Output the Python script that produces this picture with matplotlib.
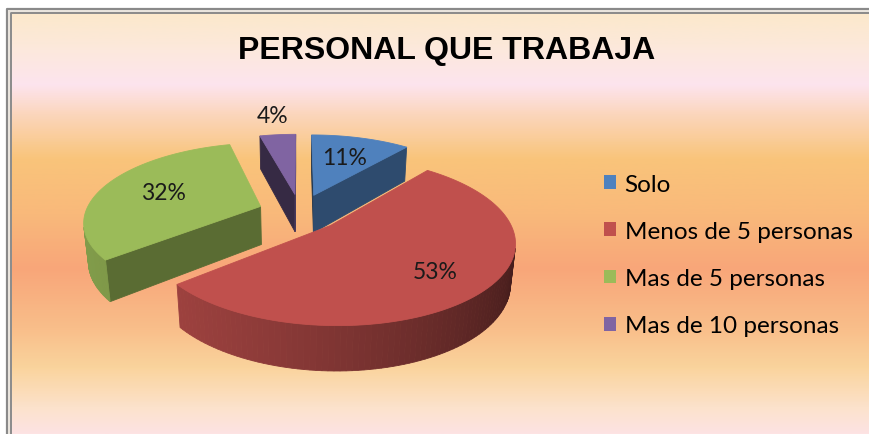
import numpy as np
import matplotlib
matplotlib.use('Agg')
import matplotlib.pyplot as plt
import matplotlib.colors as mcolors
from matplotlib.patches import Polygon, Patch

# datos
categorias = ['Solo', 'Menos de 5 personas', 'Mas de 5 personas', 'Mas de 10 personas']
valores = [11, 53, 32, 4]
colores = ['#4F81BD', '#C0504D', '#9BBB59', '#8064A2']
titulo = 'PERSONAL QUE TRABAJA'

# geometria de la torta 3D (en pixeles)
PHI = np.radians(26)
D = 5.0
S = 175.0
CX, CY = 300, 213
H = 0.25
EXP = 0.24


def proyectar(X, Y, Z):
    prof = D + Y * np.cos(PHI) - Z * np.sin(PHI)
    sx = CX + S * X * D / prof
    sy = CY - S * (Y * np.sin(PHI) + Z * np.cos(PHI)) * D / prof
    return sx, sy


def cara(X, Y, Z, color, z=2):
    xs, ys = proyectar(np.asarray(X, float), np.asarray(Y, float), np.asarray(Z, float))
    ax.add_patch(Polygon(np.column_stack([xs, ys]), closed=True, fc=color, ec=color, lw=0.6, zorder=z))


fig = plt.figure(figsize=(8.7, 4.35), dpi=100)
ax = fig.add_axes([0, 0, 1, 1])
ax.set_xlim(0, 870)
ax.set_ylim(435, 0)
ax.axis('off')

# fondo degradado
pos = np.array([13, 45, 85, 115, 160, 215, 270, 330, 370, 410, 435], float)
cols = ['#FCE8CB', '#FCE9DA', '#FDE4EE', '#FBD6BC', '#F9C47A', '#F9B97B',
        '#F8A679', '#F9BE8A', '#FAD49D', '#FCE2CC', '#FDE3E3']
pos = (pos - pos[0]) / (pos[-1] - pos[0])
cmap = mcolors.LinearSegmentedColormap.from_list('fondo', list(zip(pos, cols)))
grad = np.linspace(0, 1, 500).reshape(-1, 1)
ax.imshow(grad, cmap=cmap, extent=[12, 870, 435, 13], aspect='auto', zorder=0)

# marco
ax.plot([7.5, 7.5, 870], [435, 9.5, 9.5], color='#8A8A8A', lw=1.6, zorder=1)
ax.plot([9.5, 9.5, 870], [435, 11.5, 11.5], color='#E6E0D8', lw=1.2, zorder=1)
ax.plot([11.5, 11.5, 870], [435, 13.5, 13.5], color='#8A8A8A', lw=1.4, zorder=1)

total = float(sum(valores))
ang = np.cumsum([0] + valores) / total * 2 * np.pi
orden = sorted(range(len(valores)), key=lambda i: -np.cos((ang[i] + ang[i + 1]) / 2))

for i in orden:
    t0, t1 = ang[i], ang[i + 1]
    tm = (t0 + t1) / 2
    ox, oy = EXP * np.sin(tm), EXP * np.cos(tm)
    base = np.array(mcolors.to_rgb(colores[i]))

    # paredes radiales
    for t, n in [(t0, (-np.cos(t0), np.sin(t0))), (t1, (np.cos(t1), -np.sin(t1)))]:
        Xc, Yc = ox + 0.5 * np.sin(t), oy + 0.5 * np.cos(t)
        vis = n[0] * (-Xc) + n[1] * (-D * np.cos(PHI) - Yc)
        if vis <= 0:
            continue
        na = np.arctan2(n[0], n[1])
        sh = 0.48 + 0.1 * np.cos(na - np.radians(130))
        xr, yr = ox + np.sin(t), oy + np.cos(t)
        cara([ox, xr, xr, ox], [oy, yr, yr, oy], [0, 0, -H, -H], base * sh)

    # pared exterior
    tt = np.linspace(t0, t1, 120)
    for k in range(len(tt) - 1):
        a, b = tt[k], tt[k + 1]
        am = (a + b) / 2
        X, Y = ox + np.sin(am), oy + np.cos(am)
        vis = -np.sin(am) * X - np.cos(am) * (D * np.cos(PHI) + Y)
        if vis <= 0:
            continue
        sh = 0.57 + 0.26 * np.cos(am - np.radians(250))
        cara([ox + np.sin(a), ox + np.sin(b), ox + np.sin(b), ox + np.sin(a)],
             [oy + np.cos(a), oy + np.cos(b), oy + np.cos(b), oy + np.cos(a)],
             [0, 0, -H, -H], base * sh)

    # cara superior
    cara(np.r_[ox, ox + np.sin(tt)], np.r_[oy, oy + np.cos(tt)], np.zeros(len(tt) + 1), base, z=3)

    # etiqueta
    if valores[i] / total < 0.05:
        r = 1.4
    elif valores[i] / total > 0.5:
        r = 0.72
    else:
        r = 0.62
    lx, ly = proyectar(ox + r * np.sin(tm), oy + r * np.cos(tm), 0.0)
    ax.text(lx, ly, '%d%%' % valores[i], ha='center', va='center', fontsize=16.5,
            family='Lato', color='#1A1A1A', zorder=5)

# titulo
ax.text(447, 51, titulo, ha='center', va='center', fontsize=23, weight='bold',
        family='Liberation Sans', color='black', zorder=5)

# leyenda
handles = [Patch(facecolor=c, edgecolor='none') for c in colores]
ax.legend(handles, categorias, loc='center left', bbox_to_anchor=(604, 256),
          bbox_transform=ax.transData, frameon=False,
          prop={'family': 'Lato', 'size': 17.5}, handlelength=0.5, handleheight=0.5,
          handletextpad=0.35, labelspacing=1.08, borderpad=0, borderaxespad=0)

fig.savefig('out.png', dpi=100)
